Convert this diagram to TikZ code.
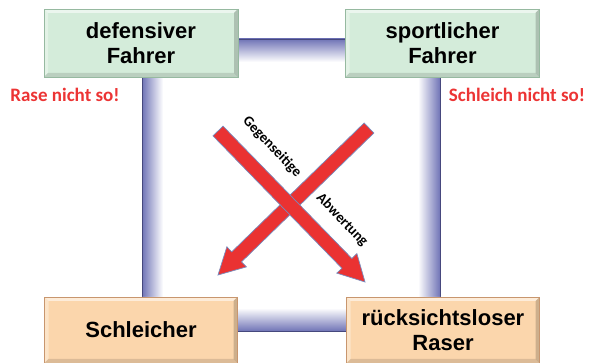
\documentclass[tikz,border=0pt]{standalone}
\usepackage{fontspec}
\setmainfont{Liberation Sans}
\newfontfamily\calib{Carlito}
\usetikzlibrary{calc}
\definecolor{framedark}{RGB}{112,116,182}
\definecolor{frameline}{RGB}{70,72,125}
\definecolor{greenfill}{RGB}{212,236,218}
\definecolor{greenline}{RGB}{150,185,160}
\definecolor{orangefill}{RGB}{251,214,172}
\definecolor{orangeline}{RGB}{200,150,110}
\definecolor{redtext}{RGB}{236,52,52}
\definecolor{arrowred}{RGB}{234,50,50}
\definecolor{arrowedge}{RGB}{120,140,190}
\tikzset{
  bevelbox/.style={rectangle, inner sep=0pt, align=center,
    font=\fontsize{22}{25}\selectfont\bfseries,
    path picture={
      \fill[white,opacity=0.55] (path picture bounding box.north west) -- (path picture bounding box.north east)
        -- ([xshift=-4pt,yshift=-4pt]path picture bounding box.north east) -- ([xshift=4pt,yshift=-4pt]path picture bounding box.north west) -- cycle;
      \fill[white,opacity=0.35] (path picture bounding box.north west) -- (path picture bounding box.south west)
        -- ([xshift=4pt,yshift=4pt]path picture bounding box.south west) -- ([xshift=4pt,yshift=-4pt]path picture bounding box.north west) -- cycle;
      \fill[black,opacity=0.12] (path picture bounding box.south west) -- (path picture bounding box.south east)
        -- ([xshift=-4pt,yshift=4pt]path picture bounding box.south east) -- ([xshift=4pt,yshift=4pt]path picture bounding box.south west) -- cycle;
      \fill[black,opacity=0.18] (path picture bounding box.north east) -- (path picture bounding box.south east)
        -- ([xshift=-4pt,yshift=4pt]path picture bounding box.south east) -- ([xshift=-4pt,yshift=-4pt]path picture bounding box.north east) -- cycle;
    }},
  greenbox/.style={bevelbox, fill=greenfill, draw=greenline, line width=0.6pt, minimum width=194pt, minimum height=68pt},
  orangebox/.style={bevelbox, fill=orangefill, draw=orangeline, line width=0.6pt, minimum width=193pt, minimum height=66pt},
  redlabel/.style={text=redtext, font=\calib\fontsize{19}{21}\selectfont\bfseries, inner sep=0pt},
  difflabel/.style={font=\calib\fontsize{14.5}{16}\selectfont\bfseries, inner sep=0pt},
  bigarrow/.style={fill=arrowred, draw=arrowedge, line width=0.7pt, line join=miter}
}
\begin{document}
\begin{tikzpicture}[x=1pt,y=-1pt]
\useasboundingbox (0,0) rectangle (590,363);
% frame bars
\shade[left color=framedark, right color=white] (142,39) rectangle (163,331);
\shade[left color=white, right color=framedark] (418,39) rectangle (440,331);
\shade[top color=framedark, bottom color=white] (142,39) rectangle (440,62);
\shade[top color=white, bottom color=framedark] (142,308) rectangle (440,331);
\draw[frameline, line width=0.8pt] (142,39) rectangle (440,331);
% boxes
\node[greenbox] (def) at (141,43) {defensiver\\Fahrer};
\node[greenbox] (spo) at (442.5,43) {sportlicher\\Fahrer};
\node[orangebox] (sch) at (141,330) {Schleicher};
\node[orangebox] (ras) at (443,330) {rücksichtsloser\\Raser};
% red texts
\node[redlabel, anchor=base] (rase) at (65,102) {Rase nicht so!};
\node[redlabel, anchor=base] (schl) at (517,102) {Schleich nicht so!};
% arrows
\coordinate (s2) at (369,128);
\coordinate (t2) at (218,275);
\coordinate (s1) at (218,131);
\coordinate (t1) at (365,282);
\coordinate (b2) at ($(t2)!26pt!(s2)$);
\coordinate (b1) at ($(t1)!26pt!(s1)$);
\draw[bigarrow] ($(s2)!7pt!90:(t2)$) -- ($(b2)!7pt!-90:(s2)$) -- ($(b2)!14pt!-90:(s2)$) -- (t2)
  -- ($(b2)!14pt!90:(s2)$) -- ($(b2)!7pt!90:(s2)$) -- ($(s2)!7pt!-90:(t2)$) -- cycle;
\draw[bigarrow] ($(s1)!7pt!90:(t1)$) -- ($(b1)!7pt!-90:(s1)$) -- ($(b1)!14pt!-90:(s1)$) -- (t1)
  -- ($(b1)!14pt!90:(s1)$) -- ($(b1)!7pt!90:(s1)$) -- ($(s1)!7pt!-90:(t1)$) -- cycle;
% labels
\node[difflabel, rotate=-46] (geg) at (272,147) {Gegenseitige};
\node[difflabel, rotate=-46] (abw) at (342,220) {Abwertung};
\end{tikzpicture}
\end{document}
